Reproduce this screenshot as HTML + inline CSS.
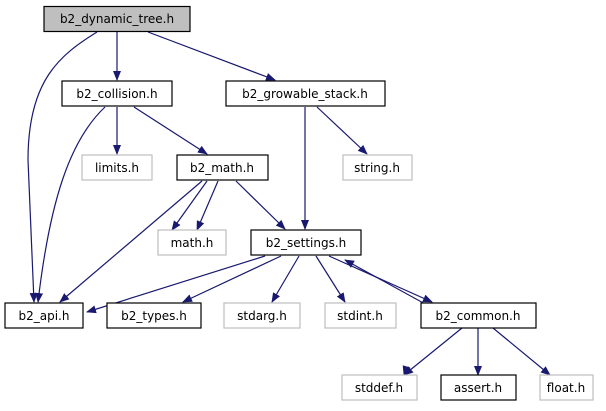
<!DOCTYPE html>
<html><head><meta charset="utf-8"><style>
body{margin:0;background:#fff}
svg{display:block}
text{font-family:"DejaVu Sans","Liberation Sans",sans-serif;font-size:12px;text-anchor:middle}
</style></head><body>
<svg width="606" height="411" viewBox="0 0 606 411" xmlns="http://www.w3.org/2000/svg">
<defs><marker id="a" markerWidth="10" markerHeight="8" refX="9" refY="4" orient="auto" markerUnits="userSpaceOnUse"><path d="M0,0 L10,4 L0,8 z" fill="#191970"/></marker></defs>
<g fill="none" stroke="#191970" stroke-width="1.2" marker-end="url(#a)">
<path d="M117,32 L117,80"/>
<path d="M148,32 L275,80"/>
<path d="M97,32 C60,55 28,80 28,160 L34,302"/>
<path d="M105,107 C70,140 50,200 38,302"/>
<path d="M117,107 L117,154"/>
<path d="M134,107 L207,154"/>
<path d="M305,107 L305,229"/>
<path d="M317,107 L367,154"/>
<path d="M207,181 L172,230"/>
<path d="M218,181 L197,230"/>
<path d="M236,181 L285,229"/>
<path d="M202,181 L60,302"/>
<path d="M265,256 L87,312"/>
<path d="M281,256 L183,302"/>
<path d="M299,256 L272,302"/>
<path d="M316,256 L345,302"/>
<path d="M329,256 L432,302"/>
<path d="M458,322 L345,260"/>
<path d="M462,328 L409,358 L404,375" stroke="none"/>
<path d="M462,328 L404,375"/>
<path d="M478,328 L478,375"/>
<path d="M493,328 L550,375"/>
</g>
<g stroke-width="1.2">
<rect x="44" y="6.5" width="146" height="25" fill="#bfbfbf" stroke="#000"/>
<rect x="62" y="81" width="110" height="25" fill="#fff" stroke="#000"/>
<rect x="226" y="81" width="159" height="25" fill="#fff" stroke="#000"/>
<rect x="82" y="155" width="70" height="25" fill="#fff" stroke="#bfbfbf"/>
<rect x="177" y="155" width="91" height="25" fill="#fff" stroke="#000"/>
<rect x="343" y="155" width="69" height="25" fill="#fff" stroke="#bfbfbf"/>
<rect x="158" y="230" width="68" height="25" fill="#fff" stroke="#bfbfbf"/>
<rect x="251" y="230" width="110" height="25" fill="#fff" stroke="#000"/>
<rect x="5" y="303" width="78" height="25" fill="#fff" stroke="#000"/>
<rect x="107" y="303" width="94" height="25" fill="#fff" stroke="#000"/>
<rect x="224" y="303" width="76" height="25" fill="#fff" stroke="#bfbfbf"/>
<rect x="325" y="303" width="71" height="25" fill="#fff" stroke="#bfbfbf"/>
<rect x="421" y="303" width="115" height="25" fill="#fff" stroke="#000"/>
<rect x="342" y="375" width="75" height="25" fill="#fff" stroke="#bfbfbf"/>
<rect x="441" y="375" width="75" height="25" fill="#fff" stroke="#000"/>
<rect x="540" y="375" width="53" height="25" fill="#fff" stroke="#bfbfbf"/>
</g>
<g fill="#000">
<text x="117" y="23">b2_dynamic_tree.h</text>
<text x="117" y="98">b2_collision.h</text>
<text x="305" y="98">b2_growable_stack.h</text>
<text x="117" y="172">limits.h</text>
<text x="222" y="172">b2_math.h</text>
<text x="377" y="172">string.h</text>
<text x="192" y="247">math.h</text>
<text x="306" y="247">b2_settings.h</text>
<text x="44" y="320">b2_api.h</text>
<text x="154" y="320">b2_types.h</text>
<text x="262" y="320">stdarg.h</text>
<text x="360" y="320">stdint.h</text>
<text x="478" y="320">b2_common.h</text>
<text x="379" y="392">stddef.h</text>
<text x="478" y="392">assert.h</text>
<text x="566" y="392">float.h</text>
</g>
</svg>
</body></html>
